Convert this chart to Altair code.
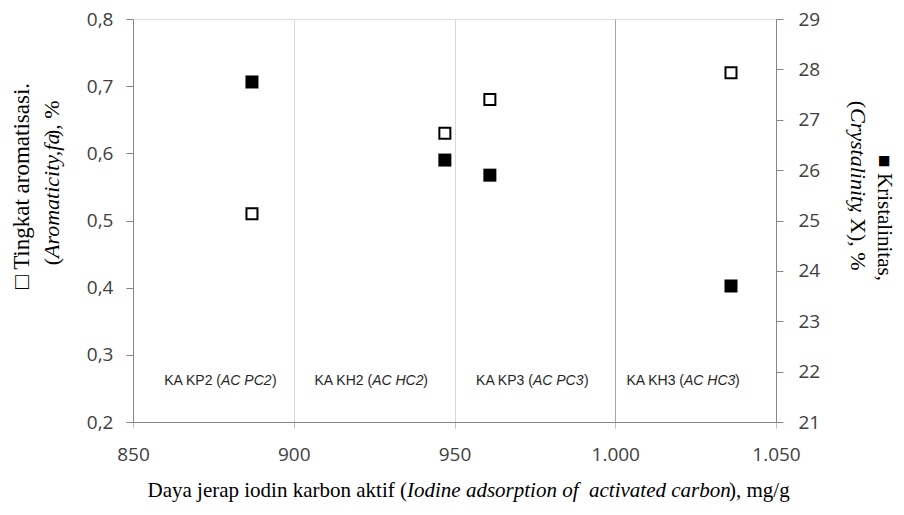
import altair as alt
import pandas as pd

# ---- data ----
samples = ["KA KP2", "KA KH2", "KA KP3", "KA KH3"]
sample_codes = ["AC PC2", "AC HC2", "AC PC3", "AC HC3"]
iodine = [887, 947, 961, 1036]            # mg/g
aromaticity = [0.51, 0.63, 0.68, 0.72]    # fa
crystallinity = [27.75, 26.2, 25.9, 23.7] # %
label_x = [878, 925, 975, 1022]           # label anchors (x data units)
x_ticks = [850, 900, 950, 1000, 1050]
left_ticks = [0.2, 0.3, 0.4, 0.5, 0.6, 0.7, 0.8]
right_ticks = [21, 22, 23, 24, 25, 26, 27, 28, 29]

W, H = 643, 403
SERIF = "Liberation Serif"
SANS = "Liberation Sans"
TICKFONT = "Open Sans"

df = pd.DataFrame({"iodine": iodine, "arom": aromaticity, "cryst": crystallinity})
lab = pd.DataFrame({"x": label_x, "prefix": [s + " (" for s in samples], "code": sample_codes})
one = pd.DataFrame({"a": [0]})

xscale = alt.Scale(domain=[850, 1050], nice=False, zero=False)

x_axis = alt.Axis(
    values=x_ticks, title=None, labelFlush=False,
    labelExpr="replace(format(datum.value, ','), ',', '.')",
    grid=True,
    gridColor={"condition": {"test": "datum.value == 1000", "value": "#a6a6a6"}, "value": "#d9d9d9"},
    domainColor="#868686", tickColor="#bfbfbf", tickSize=6,
    labelFont=TICKFONT, labelFontSize=19, labelColor="#404040", labelPadding=17,
)

arom = alt.Chart(df).mark_square(size=121, fill="white", stroke="black", strokeWidth=2, opacity=1).encode(
    x=alt.X("iodine:Q", scale=xscale, axis=x_axis),
    y=alt.Y("arom:Q", scale=alt.Scale(domain=[0.2, 0.8], nice=False, zero=False),
            axis=alt.Axis(orient="left", values=left_ticks, title=None, grid=False, labelFlush=False,
                          labelExpr="replace(format(datum.value, '.1f'), '.', ',')",
                          domainColor="#868686", tickColor="#868686", tickSize=7,
                          labelFont=TICKFONT, labelFontSize=19, labelColor="#404040", labelPadding=13)),
)

cryst = alt.Chart(df).mark_square(size=169, color="black", opacity=1).encode(
    x=alt.X("iodine:Q", scale=xscale),
    y=alt.Y("cryst:Q", scale=alt.Scale(domain=[21, 29], nice=False, zero=False),
            axis=alt.Axis(orient="right", values=right_ticks, title=None, grid=False, format="d",
                          labelFlush=False,
                          domainColor="#868686", tickColor="#868686", tickSize=7,
                          labelFont=TICKFONT, labelFontSize=19, labelColor="#404040", labelPadding=15)),
)

LY = 362
lab_pre = alt.Chart(lab).mark_text(align="right", baseline="middle", dx=-2, font=SANS,
                                   fontSize=14, color="#262626").encode(
    x=alt.X("x:Q", scale=xscale), y=alt.value(LY), text="prefix:N")
lab_it = alt.Chart(lab).mark_text(align="left", baseline="middle", dx=-2, font=SANS,
                                  fontSize=14, fontStyle="italic", color="#262626").encode(
    x=alt.X("x:Q", scale=xscale), y=alt.value(LY), text="code:N")
lab_close = alt.Chart(lab).mark_text(align="left", baseline="middle", dx=49, font=SANS,
                                     fontSize=14, color="#262626", text=")").encode(
    x=alt.X("x:Q", scale=xscale), y=alt.value(LY))


def txt(t, x, y, **kw):
    params = dict(text=t, font=SERIF, fontSize=22, color="black", baseline="middle")
    params.update(kw)
    return alt.Chart(one).mark_text(**params).encode(x=alt.value(x), y=alt.value(y))


titles = [
    # bottom title
    txt("Daya jerap iodin karbon aktif (", 274, 472, align="right", fontSize=21),
    txt("Iodine adsorption of \u00a0activated carbon", 274, 472, align="left", fontSize=21, fontStyle="italic"),
    txt("), mg/g", 596, 472, align="left", fontSize=21),
    # left title
    txt("\u25a1 Tingkat aromatisasi.", -111, 167, align="center", angle=270, fontSize=23),
    txt("(", -81, 239, align="right", angle=270),
    txt("Aromaticity,fa", -81, 239, align="left", angle=270, fontStyle="italic"),
    txt("), %", -81, 118, align="left", angle=270),
    # right title
    txt("\u25a0 Kristalinitas,", 751, 199, align="center", angle=90, fontSize=21),
    txt("(", 725, 89, align="right", angle=90),
    txt("Crystalinity", 725, 89, align="left", angle=90, fontStyle="italic"),
    txt(", X), %", 725, 188, align="left", angle=90),
]

chart = alt.layer(arom, cryst, lab_pre, lab_it, lab_close, *titles).resolve_scale(
    y="independent"
).properties(
    width=W, height=H,
    autosize=alt.AutoSizeParams(type="none"),
    padding={"left": 125, "top": 11, "right": 120, "bottom": 80},
).configure_view(stroke=None).configure(background="white")

chart.save("out.html", embed_options={"renderer": "svg", "actions": False})
